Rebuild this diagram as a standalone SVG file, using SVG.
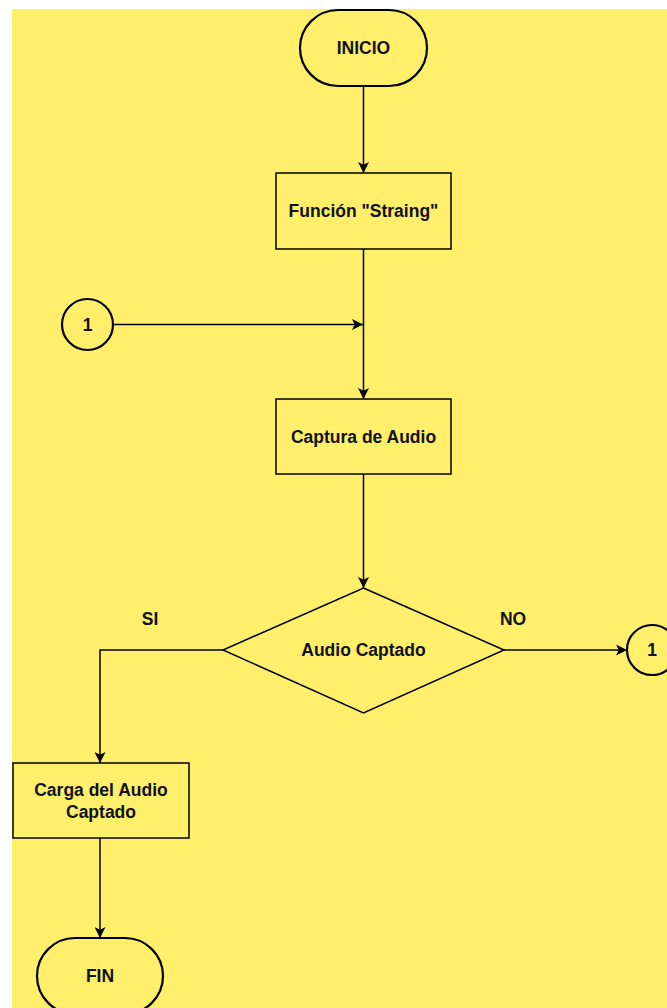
<svg xmlns="http://www.w3.org/2000/svg" width="667" height="1008" viewBox="0 0 667 1008">
<style>
.bg{fill:#ffef6a}
.shape{fill:#ffef6a;stroke:#000;stroke-width:1.5}
.term{fill:#ffef6a;stroke:#000;stroke-width:2.2}
.t{font-family:"Liberation Sans",Arial,sans-serif;font-weight:bold;font-size:17.5px;fill:#111;text-anchor:middle;dominant-baseline:central}
.c{fill:none;stroke:#000;stroke-width:1.5}
</style>
<defs>
<marker id="arr" viewBox="0 0 10 10" refX="10" refY="5" markerWidth="11" markerHeight="11" markerUnits="userSpaceOnUse" orient="auto">
<path d="M0,0 L10,5 L0,10 L2.5,5 z" fill="#000"/>
</marker>
</defs>
<rect class="bg" x="12" y="9" width="655" height="999"/>
<g id="connectors">
<path class="c" d="M363.5,86 V173" marker-end="url(#arr)"/>
<path class="c" d="M363.5,249 V399" marker-end="url(#arr)"/>
<path class="c" d="M113,324.5 H363" marker-end="url(#arr)"/>
<path class="c" d="M363.5,474 V588" marker-end="url(#arr)"/>
<path class="c" d="M504,650 H627" marker-end="url(#arr)"/>
<path class="c" d="M223,650 H100 V763" marker-end="url(#arr)"/>
<path class="c" d="M100,838 V938" marker-end="url(#arr)"/>
<text class="t" x="150" y="619">SI</text>
<text class="t" x="513" y="619">NO</text>
</g>
<g id="inicio">
<rect class="term" x="300" y="10" width="127" height="76" rx="38" ry="38"/>
<text class="t" x="363.5" y="48">INICIO</text>
</g>
<g id="funcion">
<rect class="shape" x="276" y="173" width="175" height="76"/>
<text class="t" x="363.5" y="211">Función "Straing"</text>
</g>
<g id="conector1a">
<circle class="term" cx="87.5" cy="324.5" r="25.5"/>
<text class="t" x="87.5" y="324.5">1</text>
</g>
<g id="captura">
<rect class="shape" x="276" y="399" width="175" height="75"/>
<text class="t" x="363.5" y="436.5">Captura de Audio</text>
</g>
<g id="decision">
<polygon class="shape" points="363.5,588 504,650 363.5,713 223,650"/>
<text class="t" x="363.5" y="650">Audio Captado</text>
</g>
<g id="conector1b">
<circle class="term" cx="652" cy="650" r="25"/>
<text class="t" x="652" y="650">1</text>
</g>
<g id="carga">
<rect class="shape" x="13" y="763" width="176" height="75"/>
<text class="t" x="101" y="790">Carga del Audio</text>
<text class="t" x="101" y="812">Captado</text>
</g>
<g id="fin">
<rect class="term" x="37" y="938" width="126" height="76" rx="38" ry="38"/>
<text class="t" x="100" y="976">FIN</text>
</g>
</svg>
